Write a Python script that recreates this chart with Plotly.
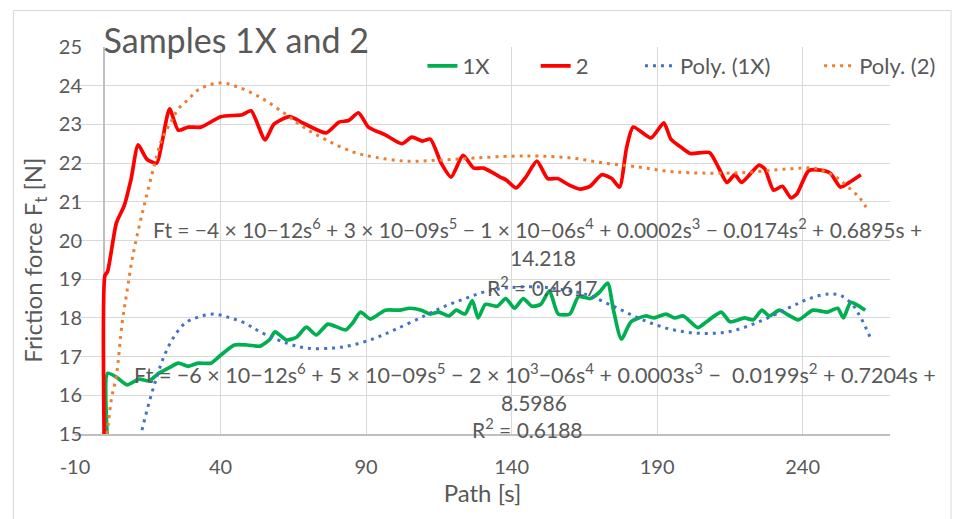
import plotly.graph_objects as go

# ---------------- data ----------------
s_2 = [0, 0.3, 1.2, 4.2, 6.9, 9.3, 11.7, 14.7, 18.1, 19.8, 22.5, 25.5, 28.9, 33.3,
       40.1, 47.5, 50.5, 55.3, 58.3, 63.7, 68.5, 76.3, 80.7, 84, 87.4, 90.8, 96.6,
       102.3, 105.7, 109.4, 112.1, 115.8, 119.2, 123.3, 127, 130.4, 136.1, 138.2,
       141.6, 144.9, 148.7, 152.4, 155.8, 159.8, 163.5, 166.9, 171, 174.4, 177.1,
       179.5, 181.8, 187.9, 192.3, 194.7, 198.4, 201.4, 208, 211, 214, 216.7, 219,
       225, 227, 230, 233, 236, 238, 242, 246, 249.5, 253, 256, 260]
f_2 = [15.0, 19.1, 19.2, 20.45, 20.9, 21.6, 22.47, 22.1, 22.0, 22.5, 23.4, 22.85,
       22.93, 22.93, 23.2, 23.25, 23.35, 22.6, 23.0, 23.2, 23.03, 22.78, 23.06, 23.1,
       23.3, 22.93, 22.73, 22.5, 22.67, 22.57, 22.62, 22.0, 21.64, 22.2, 21.87, 21.87,
       21.64, 21.56, 21.36, 21.64, 22.05, 21.6, 21.6, 21.43, 21.33, 21.4, 21.7, 21.6,
       21.38, 22.4, 22.93, 22.65, 23.04, 22.62, 22.4, 22.25, 22.27, 21.9, 21.5, 21.7,
       21.5, 21.95, 21.85, 21.3, 21.4, 21.1, 21.2, 21.8, 21.82, 21.74, 21.38, 21.5,
       21.7]

s_1x = [1, 1.2, 4.2, 7.9, 12, 15.4, 18.8, 22.1, 25.5, 28.9, 32.3, 36.7, 40.1, 44.8,
        49.2, 53.6, 57, 58.7, 62.7, 66.1, 69.5, 72.9, 76.9, 83, 85.4, 88.1, 91.5,
        96.6, 101.6, 105, 109, 112, 115, 118.5, 121, 124, 126.5, 128.5, 131, 135,
        138, 141, 144, 147, 150, 153, 156, 160, 163, 167, 170, 173, 175, 177.7, 181,
        186, 189, 193, 196, 199, 204, 207, 212, 215, 220, 223, 226, 228.5, 232,
        234.5, 238.5, 243.5, 248.5, 252, 254, 256.5, 261.5]
f_1x = [15.0, 16.57, 16.47, 16.27, 16.42, 16.37, 16.57, 16.7, 16.83, 16.75, 16.83,
        16.83, 17.04, 17.3, 17.3, 17.27, 17.45, 17.64, 17.43, 17.5, 17.76, 17.56,
        17.84, 17.69, 17.87, 18.15, 17.97, 18.2, 18.2, 18.25, 18.2, 18.1, 18.15,
        18.05, 18.2, 18.1, 18.45, 18.0, 18.35, 18.3, 18.5, 18.25, 18.5, 18.3, 18.35,
        18.7, 18.1, 18.1, 18.55, 18.5, 18.65, 18.9, 18.2, 17.45, 17.9, 18.05, 18.0,
        18.1, 18.0, 18.05, 17.75, 17.9, 18.15, 17.9, 18.0, 17.95, 18.2, 18.05, 18.2,
        18.1, 17.95, 18.2, 18.15, 18.25, 18.0, 18.4, 18.2]

s_poly_1x = [13, 15.4, 17.8, 20.5, 23.9, 27.9, 32.3, 37.4, 42.5, 48.2, 53.6, 62.7,
             69.5, 78.7, 85.4, 93.2, 100, 110, 117, 124, 131, 139, 150, 158, 165, 175,
             185, 195, 205, 215, 225, 235, 242.4, 249, 253, 257, 260, 263.5]
f_poly_1x = [15.1, 15.8, 16.4, 16.99, 17.5, 17.87, 18.02, 18.1, 18.02, 17.87, 17.64,
             17.35, 17.22, 17.22, 17.3, 17.48, 17.7, 18.05, 18.3, 18.5, 18.68, 18.78,
             18.8, 18.72, 18.62, 18.3, 17.95, 17.7, 17.6, 17.65, 17.9, 18.25, 18.5,
             18.62, 18.58, 18.35, 18.0, 17.45]

s_poly_2 = [1.0, 1.5, 2.5, 4.2, 6.2, 7.9, 9.6, 12, 14.4, 17.1, 19.8, 23.2, 25.5, 29,
            32.5, 39.7, 45.8, 53.6, 61.7, 68.5, 76.3, 85.4, 93.2, 104.3, 115.8, 127,
            140.5, 149.7, 160.8, 172, 183.5, 192.3, 201.4, 218.3, 235.3, 243.7, 247,
            251.5, 255.6, 259.6, 262.7]
f_poly_2 = [15.0, 15.3, 15.9, 16.5, 17.87, 18.7, 19.5, 20.35, 21.1, 21.9, 22.6, 23.1,
            23.4, 23.65, 23.9, 24.07, 23.97, 23.7, 23.3, 22.93, 22.6, 22.29, 22.15,
            22.05, 22.08, 22.13, 22.18, 22.18, 22.13, 22.0, 21.9, 21.8, 21.75, 21.75,
            21.85, 21.87, 21.8, 21.64, 21.38, 21.1, 20.74]

series_names = ["1X", "2", "Poly. (1X)", "Poly. (2)"]
x_ticks = [-10, 40, 90, 140, 190, 240]
y_ticks = [15, 16, 17, 18, 19, 20, 21, 22, 23, 24, 25]

title_text = "Samples 1X and 2"
x_title = "Path [s]"
y_title = "Friction force F<sub>t</sub> [N]"
eq_2 = ["Ft = −4 × 10−12s<sup>6</sup> + 3 × 10−09s<sup>5</sup> − 1 × 10−06s<sup>4</sup> + 0.0002s<sup>3</sup> − 0.0174s<sup>2</sup> + 0.6895s +",
        "14.218", "R<sup>2</sup> = 0.4617"]
eq_1x = ["Ft = −6 × 10−12s<sup>6</sup> + 5 × 10−09s<sup>5</sup> − 2 × 10<sup>3</sup>−06s<sup>4</sup> + 0.0003s<sup>3</sup> −  0.0199s<sup>2</sup> + 0.7204s +",
         "8.5986", "R<sup>2</sup> = 0.6188"]

# ---------------- layout helpers (pixel geometry) ----------------
W, H = 953, 519
L, R, T, B = 75, 903, 47, 434
FONT = "Lato"
GREY = "#595959"


def px(xp):
    return (xp - L) / (R - L)


def py(yp):
    return (B - yp) / (B - T)


legend_ids = ["legend", "legend2", "legend3", "legend4"]
legend_text_left = [468, 583, 689, 871]

fig = go.Figure()
fig.add_trace(go.Scatter(x=s_1x, y=f_1x, name=series_names[0], mode="lines", legend=legend_ids[0],
                         line=dict(color="#00B050", width=3.7, shape="spline", smoothing=0.6)))
fig.add_trace(go.Scatter(x=s_2, y=f_2, name=series_names[1], mode="lines", legend=legend_ids[1],
                         line=dict(color="#FF0000", width=3.7, shape="spline", smoothing=0.6)))
fig.add_trace(go.Scatter(x=s_poly_1x, y=f_poly_1x, name=series_names[2], mode="lines", legend=legend_ids[2],
                         line=dict(color="#4472C4", width=3, dash="3px,5px", shape="spline")))
fig.add_trace(go.Scatter(x=s_poly_2, y=f_poly_2, name=series_names[3], mode="lines", legend=legend_ids[3],
                         line=dict(color="#ED7D31", width=3, dash="3px,5px", shape="spline")))

annos = []
# equation for series 2
annos.append(dict(x=px(152), y=py(228), text=eq_2[0], xanchor="left"))
annos.append(dict(x=px(550), y=py(257), text=eq_2[1], xanchor="center"))
annos.append(dict(x=px(550), y=py(286), text=eq_2[2], xanchor="center"))
# equation for series 1X
annos.append(dict(x=px(133), y=py(373), text=eq_1x[0], xanchor="left"))
annos.append(dict(x=px(541), y=py(402), text=eq_1x[1], xanchor="center"))
annos.append(dict(x=px(535), y=py(428), text=eq_1x[2], xanchor="center"))
for a in annos:
    a.update(xref="paper", yref="paper", yanchor="middle", showarrow=False,
             font=dict(family=FONT, size=21, color=GREY))
annos[3]["font"] = dict(family=FONT, size=21.5, color=GREY)
# y axis title
annos.append(dict(x=px(33), y=py(260), xref="paper", yref="paper", text=y_title,
                  textangle=-90, showarrow=False, xanchor="center", yanchor="middle",
                  font=dict(family=FONT, size=24, color=GREY)))

layout_legends = {}
for lid, tx in zip(legend_ids, legend_text_left):
    layout_legends[lid] = dict(orientation="h", x=px(tx - 40), y=py(66), xanchor="left",
                               yanchor="middle", bgcolor="rgba(0,0,0,0)",
                               font=dict(family=FONT, size=22, color=GREY))

fig.update_layout(
    width=W, height=H,
    margin=dict(l=L, r=W - R, t=T, b=H - B, pad=0),
    paper_bgcolor="white", plot_bgcolor="white",
    font=dict(family=FONT, size=20, color=GREY),
    title=dict(text=title_text, x=px(104), xref="paper", xanchor="left",
               y=1 - 41 / H, yref="container", yanchor="middle",
               font=dict(family=FONT, size=34, color=GREY)),
    annotations=annos,
    shapes=[dict(type="rect", xref="paper", yref="paper",
                 x0=px(12.5), x1=px(965), y0=py(535), y1=py(10.5),
                 line=dict(color="#D9D9D9", width=1))],
    showlegend=True,
    **layout_legends,
)
fig.update_xaxes(range=[-10, 270], tickmode="array", tickvals=x_ticks,
                 ticktext=[str(v) for v in x_ticks],
                 showgrid=True, gridcolor="#D9D9D9", gridwidth=1.3,
                 zeroline=True, zerolinecolor="#BFBFBF", zerolinewidth=1.5,
                 showline=True, linecolor="#BFBFBF", linewidth=1.5,
                 ticks="", ticklabelstandoff=14,
                 tickfont=dict(family=FONT, size=20, color=GREY),
                 title=dict(text=x_title, standoff=6, font=dict(family=FONT, size=24, color=GREY)))
fig.update_yaxes(range=[15, 25], tickmode="array", tickvals=y_ticks,
                 showgrid=True, gridcolor="#D9D9D9", gridwidth=1.3,
                 zeroline=False, showline=False, ticks="", ticklabelstandoff=-8,
                 tickfont=dict(family=FONT, size=20, color=GREY))

fig.write_html("out.html")
